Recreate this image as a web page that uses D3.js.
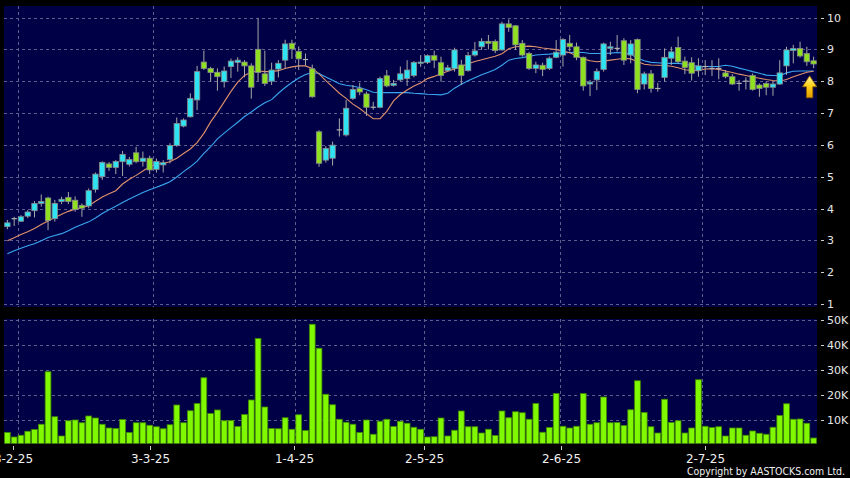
<!DOCTYPE html>
<html><head><meta charset="utf-8">
<script src="https://cdn.jsdelivr.net/npm/d3@7"></script>
<style>html,body{margin:0;padding:0;background:#000;}svg{display:block;}</style>
</head><body>
<svg id="c" width="850" height="478"></svg>
<script>
// ---- data ----
const open = [3.43,3.68,3.60,3.76,3.93,4.16,4.33,3.68,4.22,4.35, 4.26,4.10,4.08,4.60,5.00,5.40,5.29,5.47,5.39,5.75, 5.48,5.58,5.23,5.37,5.54,5.98,6.59,6.88,7.41,8.60, 8.40,8.28,7.98,8.46,8.59,8.60,8.48,9.00,8.23,8.00, 8.38,8.66,9.19,8.93,8.68,8.39,6.41,5.52,5.58,6.47, 6.31,7.46,7.77,7.60,7.18,7.18,8.17,7.87,8.04,8.08, 8.18,8.56,8.59,8.80,8.58,8.33,8.40,8.51,8.33,8.82, 9.08,9.25,9.25,8.98,9.80,9.74,9.19,8.87,8.40,8.50, 8.40,8.75,8.82,9.19,9.08,8.75,7.91,8.04,8.37,9.03, 9.03,9.27,8.82,9.31,7.91,8.23,7.77,8.12,8.72,9.06, 8.63,8.58,8.33,8.46,8.40,8.40,8.26,8.14,7.93,8.00, 8.18,7.88,7.93,7.81,7.91,8.48,8.96,9.03,8.87,8.64];
const high = [3.64,3.74,3.79,3.95,4.23,4.44,4.37,4.27,4.37,4.52, 4.38,4.16,4.63,5.13,5.48,5.46,5.52,5.81,5.62,5.94, 5.79,5.66,5.57,5.52,6.05,6.86,6.83,7.62,8.48,8.96, 8.45,8.40,8.46,8.71,8.75,8.66,8.56,9.97,8.96,8.58, 8.66,9.30,9.30,9.09,8.87,8.52,6.46,5.96,6.10,6.83, 7.41,7.88,7.95,7.67,7.35,8.14,8.35,8.04,8.46,8.66, 8.63,8.82,8.84,8.96,8.77,8.51,9.05,8.67,8.92,9.23, 9.35,9.45,9.31,9.87,9.94,9.76,9.29,8.92,8.61,8.58, 8.77,9.29,9.35,9.45,9.21,8.77,8.04,8.40,9.21,9.24, 9.45,9.35,9.29,9.34,8.30,8.35,7.95,9.03,9.08,9.40, 8.77,8.75,8.72,8.66,8.66,8.72,8.35,8.22,8.04,8.12, 8.24,7.93,7.99,7.99,8.66,9.08,9.14,9.24,9.08,8.77];
const low = [3.35,3.45,3.58,3.70,3.72,4.06,3.32,3.59,4.14,4.14, 3.90,3.74,4.01,4.50,4.90,5.18,5.08,5.02,5.32,5.42, 5.32,5.08,5.13,5.13,5.42,5.94,6.55,6.86,7.09,8.35, 7.98,7.70,7.80,8.10,8.30,8.12,7.45,8.00,7.85,7.88, 8.12,8.40,8.70,8.35,8.50,7.48,5.31,5.44,5.35,6.26, 6.26,7.41,7.56,6.91,7.10,7.15,7.81,7.83,7.99,7.85, 8.12,8.45,8.54,8.41,7.98,8.30,8.30,7.88,8.30,8.77, 8.98,9.00,8.88,8.96,9.55,8.98,8.77,8.35,8.25,8.16, 8.35,8.72,8.46,8.93,8.66,7.70,7.53,7.72,8.30,8.82, 8.93,8.51,8.56,7.62,7.74,7.64,7.67,7.99,8.51,8.56, 8.22,8.02,8.14,8.19,8.16,8.06,8.09,7.88,7.70,7.74, 7.70,7.51,7.56,7.54,7.88,8.20,8.56,8.74,8.48,8.41];
const close = [3.55,3.68,3.74,3.89,4.16,4.22,3.62,4.16,4.29,4.22, 3.97,4.01,4.56,5.08,5.45,5.29,5.48,5.70,5.54,5.47, 5.58,5.21,5.48,5.44,5.98,6.67,6.78,7.46,8.30,8.40, 8.27,8.14,8.32,8.63,8.66,8.48,7.81,8.27,7.93,8.35, 8.56,9.17,9.01,8.70,8.68,7.51,5.42,5.89,5.99,6.47, 7.15,7.74,7.66,7.18,7.18,8.08,7.85,7.93,8.23,8.35, 8.59,8.60,8.80,8.66,8.18,8.42,8.98,8.18,8.81,8.95, 9.25,9.19,8.96,9.80,9.69,9.14,8.82,8.40,8.51,8.37, 8.72,8.91,9.31,9.08,8.75,7.85,7.97,8.31,9.17,9.08, 9.03,8.66,9.17,7.74,8.23,7.77,7.77,8.75,8.92,8.61, 8.43,8.25,8.48,8.46,8.40,8.40,8.14,7.91,7.93,8.00, 7.74,7.77,7.81,7.91,8.26,8.98,9.03,8.79,8.61,8.54];
// volume in thousands
const volume = [5.0,3.2,3.9,5.5,6.2,8.3,29.3,11.3,3.6,9.7, 10.0,8.9,11.6,10.8,8.3,6.8,6.6,10.2,5.0,8.9, 8.9,7.9,7.3,6.5,8.1,16.0,8.9,13.7,16.6,26.9, 12.6,14.0,9.7,9.8,7.4,12.2,18.0,42.6,15.2,6.6, 6.5,10.9,6.3,12.1,5.8,48.3,38.7,20.3,16.1,10.3, 9.1,8.3,5.0,10.0,4.3,9.5,10.3,7.4,9.5,8.7, 7.1,6.3,3.2,3.3,10.8,3.6,5.9,13.6,7.3,7.3, 4.8,6.3,3.8,13.6,10.9,13.3,12.9,10.3,16.6,5.1, 7.0,20.6,7.5,6.8,7.5,20.6,8.3,8.9,19.2,8.9, 9.0,7.8,14.1,25.7,13.0,7.3,4.8,18.3,9.0,9.7, 4.8,6.8,26.1,7.5,7.0,7.3,3.6,6.8,6.8,3.9, 5.6,4.7,4.3,7.1,11.8,16.5,10.3,10.4,8.7,2.8];
const maShort = [2.99,3.08,3.18,3.27,3.37,3.50,3.61,3.72,3.82,3.91, 3.98,4.03,4.09,4.23,4.36,4.46,4.56,4.77,4.92,5.04, 5.18,5.31,5.39,5.42,5.47,5.58,5.73,5.87,6.07,6.36, 6.72,7.02,7.35,7.68,7.97,8.18,8.29,8.32,8.30,8.30, 8.33,8.40,8.45,8.48,8.48,8.40,8.23,8.02,7.82,7.62, 7.46,7.28,7.14,6.98,6.82,6.82,7.05,7.38,7.58,7.72, 7.85,7.94,8.08,8.15,8.23,8.31,8.38,8.46,8.55,8.62, 8.67,8.73,8.78,8.86,9.02,9.08,9.09,9.10,9.08,9.04, 9.02,8.99,8.95,8.89,8.80,8.70,8.64,8.61,8.63,8.66, 8.69,8.72,8.70,8.62,8.53,8.51,8.50,8.49,8.47,8.42, 8.36,8.34,8.33,8.38,8.39,8.37,8.32,8.27,8.22,8.18, 8.13,8.09,8.05,8.02,8.00,8.05,8.14,8.21,8.28,8.31];
const maLong = [2.58,2.67,2.75,2.83,2.89,2.99,3.09,3.15,3.21,3.30, 3.41,3.50,3.58,3.70,3.84,3.96,4.07,4.19,4.30,4.40, 4.50,4.59,4.67,4.75,4.84,4.99,5.16,5.31,5.49,5.73, 5.94,6.19,6.37,6.54,6.71,6.89,7.03,7.19,7.32,7.42, 7.62,7.80,7.96,8.10,8.21,8.27,8.24,8.13,8.03,7.92, 7.87,7.84,7.80,7.73,7.65,7.64,7.64,7.64,7.64,7.64, 7.62,7.61,7.59,7.58,7.57,7.62,7.78,7.90,8.01,8.11, 8.20,8.28,8.37,8.50,8.66,8.71,8.74,8.78,8.82,8.84, 8.85,8.87,8.89,8.90,8.91,8.90,8.87,8.87,8.87,8.88, 8.90,8.88,8.85,8.72,8.64,8.59,8.58,8.56,8.56,8.56, 8.53,8.49,8.47,8.46,8.46,8.46,8.50,8.47,8.41,8.36, 8.30,8.25,8.19,8.18,8.17,8.26,8.31,8.32,8.32,8.32];
const tickIndex = [2,22,43,62,82,103];
const tickLabels = ["3-2-25","3-3-25","1-4-25","2-5-25","2-6-25","2-7-25"];
const priceTicks = [1,2,3,4,5,6,7,8,9,10];
const volTicks = [10,20,30,40,50];

// ---- layout ----
const W=850,H=478, L=4, R=817, pTop=6, pBot=307, vTop=319, vBot=443.5;
const NAVY="#000046", GRID="#5e5e8e", CYAN="#2ee3f2", GREEN="#8ee020", VOL="#80f800";
const FONT="DejaVu Sans, Verdana, sans-serif";
const svg=d3.select('#c');
svg.append('rect').attr('width',W).attr('height',H).attr('fill','#000');

const idx=d3.range(open.length);
const x=d3.scaleBand().domain(idx).range([L,R]).paddingInner(0.15).paddingOuter(0.075);
const cx=i=>x(i)+x.bandwidth()/2;
const gx=i=>x(i)-x.step()*x.paddingInner()/2;
// date-label axis of the source runs on its own slightly wider scale
const xLab=d3.scaleLinear().domain([0,open.length]).range([-0.2,821.4]);
const yP=d3.scaleLinear().domain([1,10]).range([304,17.5]);
const yV=d3.scaleLinear().domain([0,50]).range([445,320]);

// panels
svg.append('rect').attr('x',L).attr('y',pTop).attr('width',R-L).attr('height',pBot-pTop).attr('fill',NAVY);
svg.append('rect').attr('x',L).attr('y',vTop).attr('width',R-L).attr('height',vBot-vTop).attr('fill',NAVY);
const defs=svg.append('defs');
defs.append('clipPath').attr('id','cp').append('rect').attr('x',L).attr('y',pTop).attr('width',R-L).attr('height',pBot-pTop);
defs.append('clipPath').attr('id','cv').append('rect').attr('x',L).attr('y',vTop).attr('width',R-L).attr('height',vBot-vTop);

// gridlines
const grid=svg.append('g').attr('stroke',GRID).attr('stroke-width',1).attr('stroke-dasharray','3,3').attr('fill','none');
priceTicks.forEach(v=>grid.append('line').attr('x1',L).attr('x2',R).attr('y1',Math.round(yP(v))+0.5).attr('y2',Math.round(yP(v))+0.5));
volTicks.forEach(v=>grid.append('line').attr('x1',L).attr('x2',R).attr('y1',Math.round(yV(v))+0.5).attr('y2',Math.round(yV(v))+0.5));
tickIndex.forEach(i=>{
  const gxx=Math.round(gx(i))+0.5;
  grid.append('line').attr('x1',gxx).attr('x2',gxx).attr('y1',pTop).attr('y2',pBot);
  grid.append('line').attr('x1',gxx).attr('x2',gxx).attr('y1',vTop).attr('y2',vBot);
});

// volume bars
svg.append('g').attr('clip-path','url(#cv)').selectAll('rect').data(idx).join('rect')
  .attr('x',i=>x(i)).attr('width',x.bandwidth())
  .attr('y',i=>yV(volume[i])).attr('height',i=>yV(0)-yV(volume[i]))
  .attr('fill',VOL).attr('stroke','#3f8a00').attr('stroke-width',0.8);

// moving averages
const gP=svg.append('g').attr('clip-path','url(#cp)');
const line=arr=>d3.line().x(i=>cx(i)).y(i=>yP(arr[i]))(idx);
gP.append('path').attr('d',line(maLong)).attr('fill','none').attr('stroke','#3aa6f0').attr('stroke-width',1.1);
gP.append('path').attr('d',line(maShort)).attr('fill','none').attr('stroke','#e0926a').attr('stroke-width',1.1);

// candles
const bw=x.bandwidth()-0.4;
const cg=gP.append('g');
idx.forEach(i=>{
  const c=cx(i), o=open[i], cl=close[i];
  cg.append('line').attr('x1',c).attr('x2',c).attr('y1',yP(high[i])).attr('y2',yP(low[i])).attr('stroke','#a8a8a8').attr('stroke-width',1);
  if(Math.abs(o-cl)<0.005){
    cg.append('line').attr('x1',c-bw/2).attr('x2',c+bw/2).attr('y1',yP(o)).attr('y2',yP(o)).attr('stroke','#b0b0b0').attr('stroke-width',1.2);
  } else {
    const top=yP(Math.max(o,cl)), bot=yP(Math.min(o,cl));
    cg.append('rect').attr('x',c-bw/2).attr('width',bw).attr('y',top).attr('height',Math.max(bot-top,1))
      .attr('fill',cl>o?CYAN:GREEN).attr('stroke','#8a8a8a').attr('stroke-width',0.8);
  }
});

// arrow below last point
const last=idx.length-1;
const grad=defs.append('linearGradient').attr('id','ag').attr('x1',0).attr('x2',0).attr('y1',0).attr('y2',1);
grad.append('stop').attr('offset','0%').attr('stop-color','#fff6a0');
grad.append('stop').attr('offset','45%').attr('stop-color','#ffd21a');
grad.append('stop').attr('offset','100%').attr('stop-color','#e39a00');
const ax=cx(last)-4, ay=yP(maShort[last])+4.5;
svg.append('path').attr('transform',`translate(${ax},${ay})`)
  .attr('d','M0,0 L7.2,11 L3.2,11 L3.2,22 L-3.2,22 L-3.2,11 L-7.2,11 Z')
  .attr('fill','url(#ag)').attr('stroke','#8a5a00').attr('stroke-width',0.8);

// right axes
const ax1=svg.append('g').attr('font-family',FONT).attr('font-size',11).attr('fill','#e6e6e6');
priceTicks.forEach(v=>{
  const yy=Math.round(yP(v))+0.5;
  ax1.append('line').attr('x1',821).attr('x2',824).attr('y1',yy).attr('y2',yy).attr('stroke','#cfcfcf');
  ax1.append('text').attr('x',827).attr('y',yy).attr('dy','0.36em').text(v);
});
volTicks.forEach(v=>{
  const yy=Math.round(yV(v))+0.5;
  ax1.append('line').attr('x1',821).attr('x2',824).attr('y1',yy).attr('y2',yy).attr('stroke','#cfcfcf');
  ax1.append('text').attr('x',827).attr('y',yy).attr('dy','0.36em').text(v+'K');
});

// bottom axis
const bx=svg.append('g').attr('font-family',FONT).attr('font-size',12).attr('fill','#f0f0f0');
tickIndex.forEach((i,k)=>{
  const t=Math.round(xLab(i))+0.5;
  bx.append('line').attr('x1',t).attr('x2',t).attr('y1',446).attr('y2',450).attr('stroke','#cfcfcf');
  bx.append('text').attr('x',t).attr('y',462.5).attr('text-anchor','middle').text(tickLabels[k]);
});

svg.append('text').attr('x',845).attr('y',474.5).attr('text-anchor','end')
  .attr('font-family',FONT).attr('font-size',11).attr('fill','#f0f0f0')
  .attr('textLength',158).attr('lengthAdjust','spacingAndGlyphs')
  .text('Copyright by AASTOCKS.com Ltd.');
</script>
</body></html>
